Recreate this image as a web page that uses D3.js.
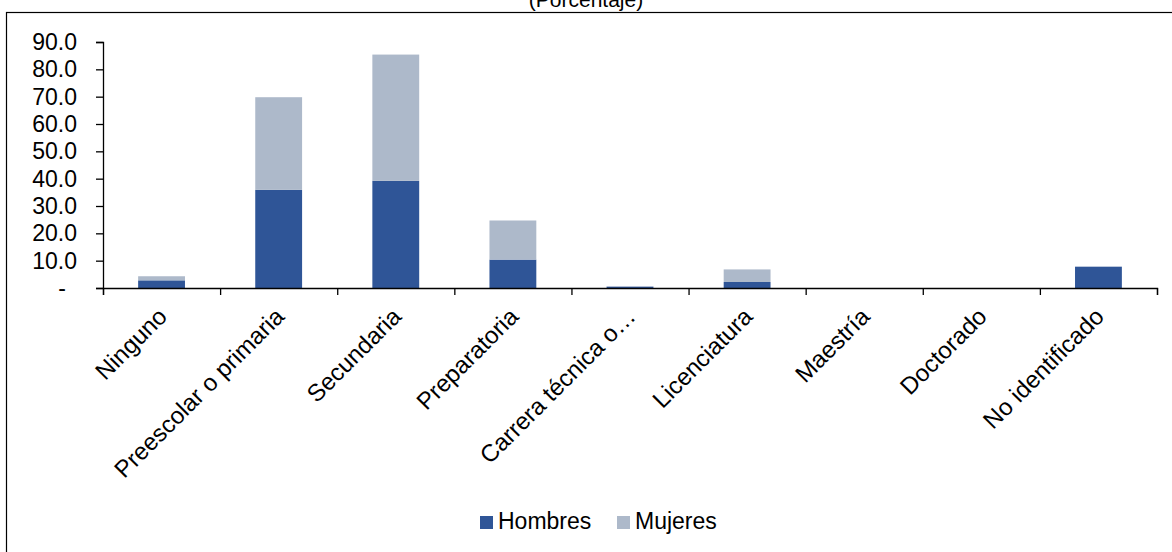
<!DOCTYPE html>
<html>
<head>
<meta charset="utf-8">
<script src="https://cdn.jsdelivr.net/npm/d3@7"></script>
<style>
  html, body { margin: 0; padding: 0; background: #fff; }
  svg { display: block; font-family: "Liberation Sans", Arial, sans-serif; }
</style>
</head>
<body>
<svg id="chart" width="1172" height="552"></svg>
<script>
// Nivel de escolaridad, por sexo (porcentaje)
const categories = [
  "Ninguno", "Preescolar o primaria", "Secundaria", "Preparatoria",
  "Carrera técnica o…", "Licenciatura", "Maestría", "Doctorado", "No identificado"
];
const hombres = [2.8, 35.9, 39.2, 10.4, 0.5, 2.2, 0.0, 0.0, 7.8];
const mujeres = [1.5, 33.9, 46.2, 14.3, 0.1, 4.6, 0.0, 0.0, 0.0];
const seriesNames = ["Hombres", "Mujeres"];
const seriesColors = ["#2F5597", "#ADB9CA"];
const yTicks = [0, 10, 20, 30, 40, 50, 60, 70, 80, 90];
const title = "(Porcentaje)";

const W = 1172, H = 552;
const plot = { left: 103, right: 1157, top: 42, bottom: 288 };

const svg = d3.select("#chart");

// outer frame
svg.append("rect")
  .attr("x", 6.5).attr("y", 12.5)
  .attr("width", W + 10).attr("height", H + 10)
  .attr("fill", "none").attr("stroke", "#000").attr("stroke-width", 1.2);

// title
svg.append("text")
  .attr("x", W / 2).attr("y", 7)
  .attr("text-anchor", "middle")
  .attr("font-size", 21)
  .attr("fill", "#000")
  .text(title);

const x = d3.scaleBand().domain(categories).range([plot.left, plot.right]).padding(0);
const y = d3.scaleLinear().domain([0, 90]).range([plot.bottom, plot.top]);

// stacked data
const rows = categories.map((c, i) => ({ cat: c, Hombres: hombres[i], Mujeres: mujeres[i] }));
const stack = d3.stack().keys(seriesNames)(rows);

const barW = x.bandwidth() * 0.4;
svg.append("g").selectAll("g")
  .data(stack)
  .join("g")
  .attr("fill", (d, i) => seriesColors[i])
  .selectAll("rect")
  .data(d => d)
  .join("rect")
  .attr("x", d => x(d.data.cat) + (x.bandwidth() - barW) / 2)
  .attr("width", barW)
  .attr("y", d => y(d[1]))
  .attr("height", d => Math.max(0, y(d[0]) - y(d[1])));

// y axis
const yAxis = svg.append("g")
  .attr("transform", `translate(${plot.left},0)`)
  .call(d3.axisLeft(y).tickValues(yTicks).tickSizeOuter(0).tickSize(7).tickPadding(19)
    .tickFormat(d => d === 0 ? "-" : d3.format(".1f")(d)));
yAxis.select(".domain").attr("stroke", "#000").attr("stroke-width", 1.3);
yAxis.selectAll(".tick line").attr("stroke", "#000").attr("stroke-width", 1.3);
yAxis.selectAll(".tick text")
  .attr("font-size", 23).attr("fill", "#000")
  .attr("font-family", "'Liberation Sans', Arial, sans-serif")
  .attr("dx", d => d === 0 ? -11 : 0);

// x axis: ticks at category boundaries
const xb = d3.scaleLinear().domain([0, categories.length]).range([plot.left, plot.right]);
const xAxis = svg.append("g")
  .attr("transform", `translate(0,${plot.bottom})`)
  .call(d3.axisBottom(xb).tickValues(d3.range(categories.length + 1)).tickSizeOuter(0).tickSize(7).tickFormat(""));
xAxis.select(".domain").attr("stroke", "#000").attr("stroke-width", 1.3);
xAxis.selectAll(".tick line").attr("stroke", "#000").attr("stroke-width", 1.3);

// rotated category labels
svg.append("g").selectAll("text")
  .data(categories)
  .join("text")
  .attr("transform", d => `translate(${x(d) + x.bandwidth() / 2 + 1},${plot.bottom + 24}) rotate(-45)`)
  .attr("text-anchor", "end")
  .attr("dy", "0.35em")
  .attr("font-size", 24)
  .attr("fill", "#000")
  .text(d => d);

// legend
const legend = svg.append("g");
const legendItems = [
  { name: seriesNames[0], color: seriesColors[0], x: 480 },
  { name: seriesNames[1], color: seriesColors[1], x: 617 }
];
legendItems.forEach(it => {
  legend.append("rect").attr("x", it.x).attr("y", 516).attr("width", 13).attr("height", 13).attr("fill", it.color);
  legend.append("text").attr("x", it.x + 18).attr("y", 529)
    .attr("font-size", 23).attr("fill", "#000").text(it.name);
});
</script>
</body>
</html>
